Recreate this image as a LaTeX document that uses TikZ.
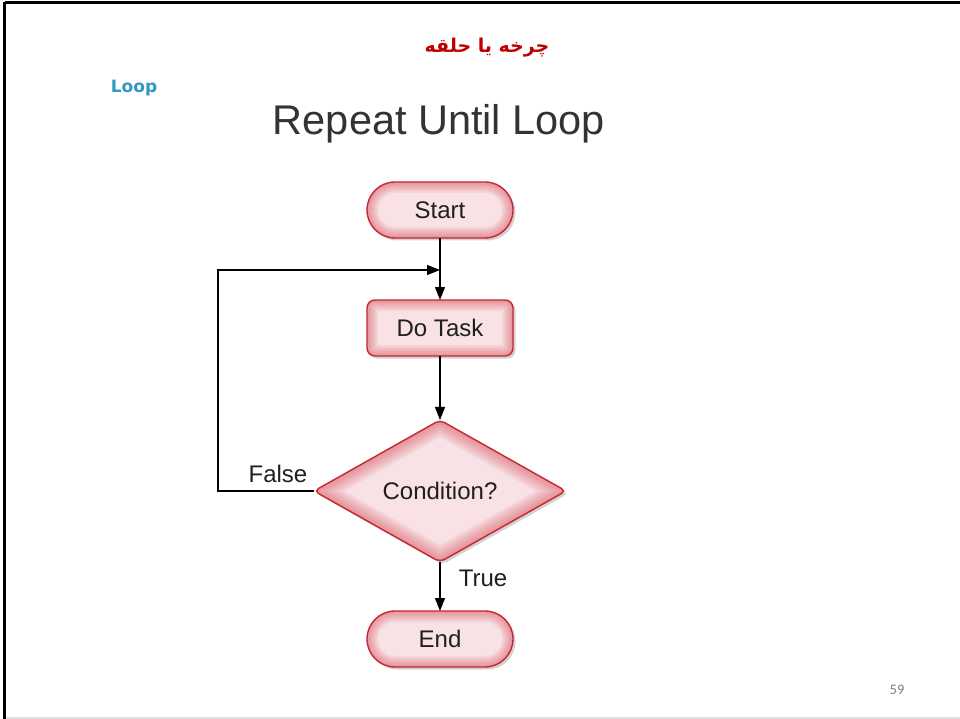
\documentclass[tikz,border=0pt]{standalone}
\usepackage{fontspec}
\setmainfont{Liberation Sans}
\newfontfamily\arabicfont[Script=Arabic]{DejaVu Sans}
\newfontfamily\dejavu{DejaVu Sans}
\newfontfamily\calib{Carlito}
\TeXXeTstate=1
\usetikzlibrary{shapes.geometric,arrows.meta,shadows}

\definecolor{titlered}{RGB}{192,0,0}
\definecolor{loopblue}{RGB}{49,151,196}
\definecolor{edgered}{RGB}{200,38,48}
\definecolor{glowred}{RGB}{214,60,72}
\definecolor{boxpink}{RGB}{248,226,229}
\definecolor{headgray}{RGB}{51,51,51}
\definecolor{pagegray}{RGB}{128,128,128}

\tikzset{
  flowbase/.style={draw=edgered, line width=1.4pt, fill=boxpink,
    font=\fontsize{24}{26}\selectfont, text=black!88, inner sep=0pt, outer sep=0pt,
    drop shadow={shadow xshift=2.5pt, shadow yshift=-2.5pt, opacity=.25, fill=black!70}},
  glowbox/.style={flowbase, rounded corners=#1,
    path picture={
      \foreach \w in {22,19,...,1}
        \draw[line width=\w pt, draw=glowred, opacity=.075, rounded corners=#1]
          (path picture bounding box.south west) rectangle (path picture bounding box.north east);
    }},
  terminal/.style={glowbox=28pt, minimum width=146pt, minimum height=56pt},
  process/.style={glowbox=8pt, minimum width=146pt, minimum height=56pt},
  decision/.style={flowbase, diamond, rounded corners=5pt, aspect=1.77,
    minimum width=252pt, minimum height=142pt,
    path picture={
      \foreach \w in {30,26,...,2}
        \draw[line width=\w pt, draw=glowred, opacity=.075, line join=round]
          (path picture bounding box.west) -- (path picture bounding box.north)
          -- (path picture bounding box.east) -- (path picture bounding box.south) -- cycle;
    }},
  flowarrow/.style={draw=black, line width=1.2pt, -{Triangle[length=13pt,width=10pt]}},
  edgelabel/.style={font=\fontsize{24}{26}\selectfont, text=black!88, inner sep=0pt}
}

\begin{document}
\begin{tikzpicture}[x=1pt, y=-1pt]
  \useasboundingbox (0,0) rectangle (960,719);

  % page frame
  \draw[line width=3pt] (4.5,2.5) -- (960,2.5);
  \draw[line width=3pt] (4.5,2.5) -- (4.5,719);
  \draw[line width=1.5pt, black!12] (6,718) -- (960,718);

  % headings
  \node[font=\arabicfont\bfseries\fontsize{19}{22}\selectfont, text=titlered] (title) at (487,48) {\beginR چرخه یا حلقه\endR};
  \node[font=\dejavu\bfseries\fontsize{17}{19}\selectfont, text=loopblue] (loop) at (134,88) {Loop};
  \node[font=\fontsize{41.5}{45}\selectfont, text=headgray] (heading) at (439,124) {Repeat Until Loop};

  % flowchart
  \node[terminal] (start) at (440,210) {Start};
  \node[process] (task) at (440,328) {Do Task};
  \node[decision] (cond) at (440,491) {Condition?};
  \node[terminal] (end) at (440,639) {End};

  \coordinate (join) at (440,270);
  \coordinate (corner) at (218,270);

  \draw[flowarrow] (start) -- (task);
  \draw[flowarrow] (task) -- (cond);
  \draw[flowarrow] (cond) -- (end);
  \draw[flowarrow] (cond.west) -| (corner) -- (join);

  \node[edgelabel] (falselbl) at (278,474) {False};
  \node[edgelabel] (truelbl) at (483,578) {True};

  % page number
  \node[font=\calib\fontsize{14.5}{16}\selectfont, text=pagegray] (pagenum) at (897,690) {59};
\end{tikzpicture}
\end{document}
